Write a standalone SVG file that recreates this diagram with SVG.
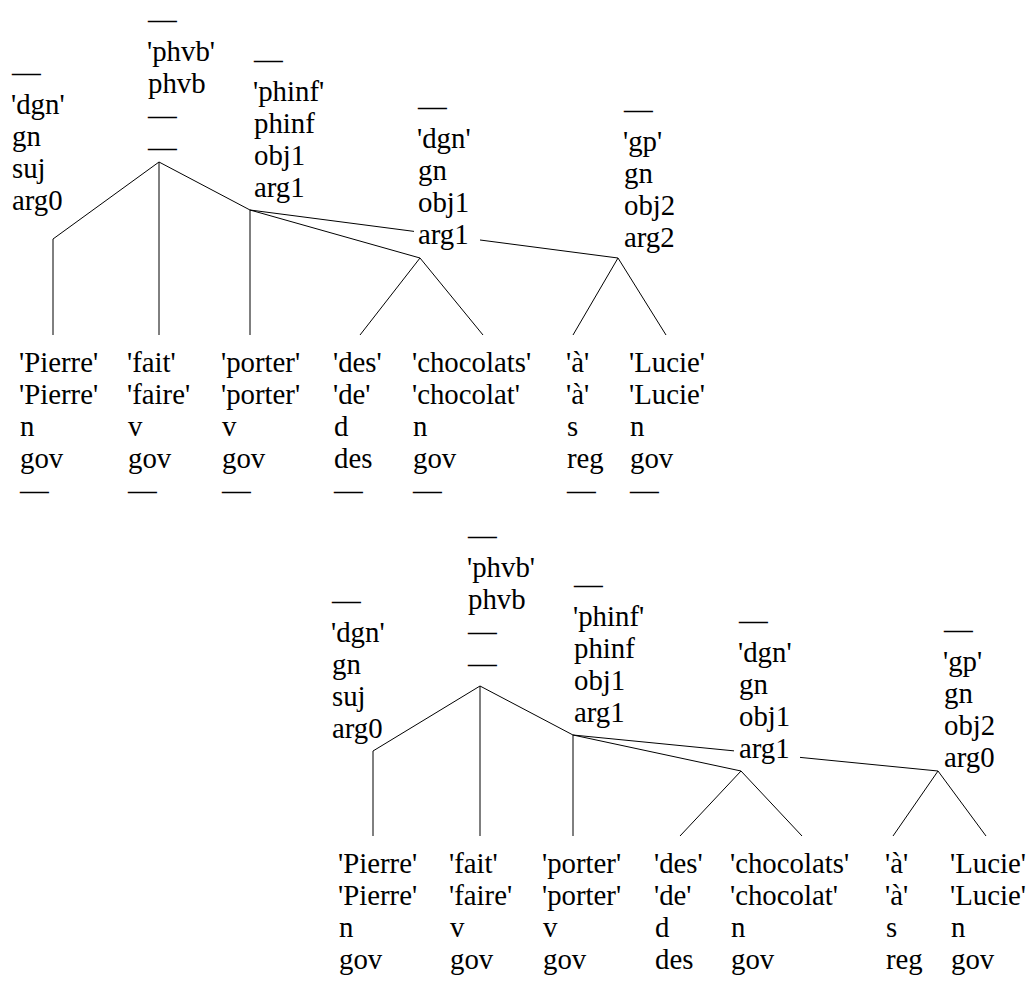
<svg xmlns="http://www.w3.org/2000/svg" width="1036" height="992" viewBox="0 0 1036 992">
<style>
text{font-family:"Liberation Serif","Times New Roman",serif;font-size:28.8px;fill:#000}
.e{fill:none;stroke:#000;stroke-width:1}
.bg{fill:#fff}
</style>
<rect width="1036" height="992" fill="#fff"/>
<g id="connectors">
<polyline class="e" points="159,162 53,239 53,335"/>
<line class="e" x1="159" y1="162" x2="159" y2="335"/>
<polyline class="e" points="159,162 250,210 250,335"/>
<line class="e" x1="250" y1="210" x2="420" y2="258"/>
<line class="e" x1="250" y1="210" x2="618" y2="258"/>
<line class="e" x1="420" y1="258" x2="360" y2="335"/>
<line class="e" x1="420" y1="258" x2="483" y2="335"/>
<line class="e" x1="618" y1="258" x2="573" y2="335"/>
<line class="e" x1="618" y1="258" x2="666" y2="335"/>
<polyline class="e" points="480,686 373,751 373,836"/>
<line class="e" x1="480" y1="686" x2="480" y2="836"/>
<polyline class="e" points="480,686 573,735 573,836"/>
<line class="e" x1="573" y1="735" x2="741" y2="771"/>
<line class="e" x1="573" y1="735" x2="938" y2="771"/>
<line class="e" x1="741" y1="771" x2="680" y2="836"/>
<line class="e" x1="741" y1="771" x2="802" y2="836"/>
<line class="e" x1="938" y1="771" x2="893" y2="836"/>
<line class="e" x1="938" y1="771" x2="986" y2="836"/>
</g>
<g id="t1-dgn-suj"><text><tspan x="12" y="82">—</tspan><tspan x="11" y="114">'dgn'</tspan><tspan x="12" y="146">gn</tspan><tspan x="12" y="178">suj</tspan><tspan x="12" y="210">arg0</tspan></text></g>
<g id="t1-phvb"><text><tspan x="148" y="29">—</tspan><tspan x="147" y="61">'phvb'</tspan><tspan x="148" y="93">phvb</tspan><tspan x="148" y="125">—</tspan><tspan x="148" y="157">—</tspan></text></g>
<g id="t1-phinf"><text><tspan x="254" y="69">—</tspan><tspan x="253" y="101">'phinf'</tspan><tspan x="254" y="133">phinf</tspan><tspan x="254" y="165">obj1</tspan><tspan x="254" y="197">arg1</tspan></text></g>
<g id="t1-dgn-obj1"><rect class="bg" x="414" y="224" width="66" height="26"/><text><tspan x="418" y="116">—</tspan><tspan x="417" y="148">'dgn'</tspan><tspan x="418" y="180">gn</tspan><tspan x="418" y="212">obj1</tspan><tspan x="418" y="244">arg1</tspan></text></g>
<g id="t1-gp"><text><tspan x="624" y="119">—</tspan><tspan x="623" y="151">'gp'</tspan><tspan x="624" y="183">gn</tspan><tspan x="624" y="215">obj2</tspan><tspan x="624" y="247">arg2</tspan></text></g>
<g id="t1-pierre"><text><tspan x="19" y="372">'Pierre'</tspan><tspan x="19" y="404">'Pierre'</tspan><tspan x="20" y="436">n</tspan><tspan x="20" y="468">gov</tspan><tspan x="20" y="500">—</tspan></text></g>
<g id="t1-fait"><text><tspan x="127" y="372">'fait'</tspan><tspan x="127" y="404">'faire'</tspan><tspan x="128" y="436">v</tspan><tspan x="128" y="468">gov</tspan><tspan x="128" y="500">—</tspan></text></g>
<g id="t1-porter"><text><tspan x="221" y="372">'porter'</tspan><tspan x="221" y="404">'porter'</tspan><tspan x="222" y="436">v</tspan><tspan x="222" y="468">gov</tspan><tspan x="222" y="500">—</tspan></text></g>
<g id="t1-des"><text><tspan x="333" y="372">'des'</tspan><tspan x="333" y="404">'de'</tspan><tspan x="334" y="436">d</tspan><tspan x="334" y="468">des</tspan><tspan x="334" y="500">—</tspan></text></g>
<g id="t1-chocolats"><text><tspan x="412" y="372">'chocolats'</tspan><tspan x="412" y="404">'chocolat'</tspan><tspan x="413" y="436">n</tspan><tspan x="413" y="468">gov</tspan><tspan x="413" y="500">—</tspan></text></g>
<g id="t1-a"><text><tspan x="566" y="372">'à'</tspan><tspan x="566" y="404">'à'</tspan><tspan x="567" y="436">s</tspan><tspan x="567" y="468">reg</tspan><tspan x="567" y="500">—</tspan></text></g>
<g id="t1-lucie"><text><tspan x="629" y="372">'Lucie'</tspan><tspan x="629" y="404">'Lucie'</tspan><tspan x="630" y="436">n</tspan><tspan x="630" y="468">gov</tspan><tspan x="630" y="500">—</tspan></text></g>
<g id="t2-dgn-suj"><text><tspan x="332" y="610">—</tspan><tspan x="331" y="642">'dgn'</tspan><tspan x="332" y="674">gn</tspan><tspan x="332" y="706">suj</tspan><tspan x="332" y="738">arg0</tspan></text></g>
<g id="t2-phvb"><text><tspan x="468" y="545">—</tspan><tspan x="467" y="577">'phvb'</tspan><tspan x="468" y="609">phvb</tspan><tspan x="468" y="641">—</tspan><tspan x="468" y="673">—</tspan></text></g>
<g id="t2-phinf"><text><tspan x="574" y="594">—</tspan><tspan x="573" y="626">'phinf'</tspan><tspan x="574" y="658">phinf</tspan><tspan x="574" y="690">obj1</tspan><tspan x="574" y="722">arg1</tspan></text></g>
<g id="t2-dgn-obj1"><rect class="bg" x="734" y="738" width="66" height="26"/><text><tspan x="739" y="630">—</tspan><tspan x="738" y="662">'dgn'</tspan><tspan x="739" y="694">gn</tspan><tspan x="739" y="726">obj1</tspan><tspan x="739" y="758">arg1</tspan></text></g>
<g id="t2-gp"><text><tspan x="944" y="639">—</tspan><tspan x="943" y="671">'gp'</tspan><tspan x="944" y="703">gn</tspan><tspan x="944" y="735">obj2</tspan><tspan x="944" y="767">arg0</tspan></text></g>
<g id="t2-pierre"><text><tspan x="338" y="873">'Pierre'</tspan><tspan x="338" y="905">'Pierre'</tspan><tspan x="339" y="937">n</tspan><tspan x="339" y="969">gov</tspan></text></g>
<g id="t2-fait"><text><tspan x="449" y="873">'fait'</tspan><tspan x="449" y="905">'faire'</tspan><tspan x="450" y="937">v</tspan><tspan x="450" y="969">gov</tspan></text></g>
<g id="t2-porter"><text><tspan x="542" y="873">'porter'</tspan><tspan x="542" y="905">'porter'</tspan><tspan x="543" y="937">v</tspan><tspan x="543" y="969">gov</tspan></text></g>
<g id="t2-des"><text><tspan x="654" y="873">'des'</tspan><tspan x="654" y="905">'de'</tspan><tspan x="655" y="937">d</tspan><tspan x="655" y="969">des</tspan></text></g>
<g id="t2-chocolats"><text><tspan x="730" y="873">'chocolats'</tspan><tspan x="730" y="905">'chocolat'</tspan><tspan x="731" y="937">n</tspan><tspan x="731" y="969">gov</tspan></text></g>
<g id="t2-a"><text><tspan x="885" y="873">'à'</tspan><tspan x="885" y="905">'à'</tspan><tspan x="886" y="937">s</tspan><tspan x="886" y="969">reg</tspan></text></g>
<g id="t2-lucie"><text><tspan x="950" y="873">'Lucie'</tspan><tspan x="950" y="905">'Lucie'</tspan><tspan x="951" y="937">n</tspan><tspan x="951" y="969">gov</tspan></text></g>
</svg>
